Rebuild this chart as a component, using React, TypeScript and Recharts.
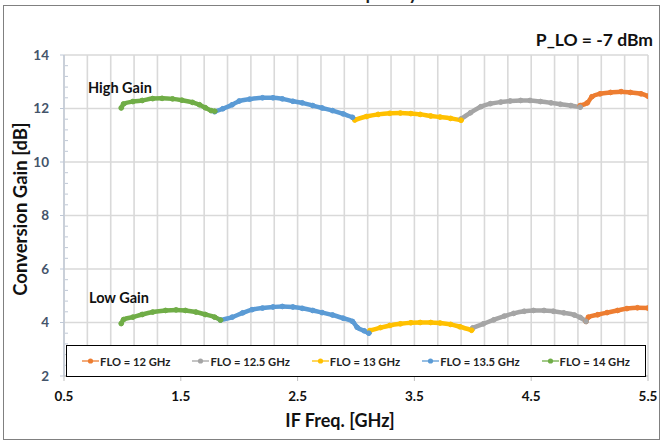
import React from 'react';
import { LineChart, Line, XAxis, YAxis, CartesianGrid, Legend, ReferenceLine } from 'recharts';

// IF frequency [GHz] / conversion gain [dB]
// each FLO has a high gain branch and a low gain branch, split by a null point
const flo12High = [[4.92, 12.11], [4.98, 12.21], [5.02, 12.44], [5.09, 12.55], [5.18, 12.6], [5.27, 12.63], [5.35, 12.6], [5.44, 12.55], [5.5, 12.46]];
const flo12Low = [[4.97, 4.04], [4.99, 4.2], [5.07, 4.29], [5.15, 4.37], [5.24, 4.45], [5.32, 4.52], [5.41, 4.55], [5.5, 4.54]];
const flo125High = [[3.9, 11.61], [3.98, 11.84], [4.07, 12.07], [4.15, 12.18], [4.24, 12.24], [4.32, 12.28], [4.41, 12.3], [4.49, 12.3], [4.58, 12.26], [4.67, 12.21], [4.75, 12.16], [4.84, 12.11], [4.92, 12.05]];
const flo125Low = [[4.0, 3.8], [4.09, 3.95], [4.18, 4.1], [4.27, 4.24], [4.35, 4.34], [4.44, 4.42], [4.52, 4.45], [4.61, 4.45], [4.69, 4.42], [4.78, 4.36], [4.87, 4.28], [4.92, 4.19], [4.97, 4.04]];
const flo13High = [[2.99, 11.57], [3.09, 11.7], [3.19, 11.78], [3.29, 11.82], [3.38, 11.83], [3.47, 11.81], [3.55, 11.78], [3.64, 11.72], [3.72, 11.68], [3.81, 11.63], [3.9, 11.56]];
const flo13Low = [[3.12, 3.7], [3.21, 3.81], [3.29, 3.89], [3.38, 3.95], [3.47, 3.99], [3.55, 4.0], [3.64, 4.0], [3.72, 3.98], [3.81, 3.93], [3.89, 3.84], [3.99, 3.71]];
const flo135High = [[1.79, 11.88], [1.86, 11.99], [1.94, 12.14], [2.0, 12.28], [2.09, 12.35], [2.2, 12.4], [2.29, 12.4], [2.37, 12.36], [2.46, 12.27], [2.54, 12.21], [2.63, 12.11], [2.71, 12.02], [2.8, 11.92], [2.89, 11.8], [2.97, 11.67]];
const flo135Low = [[1.84, 4.09], [1.94, 4.2], [2.03, 4.36], [2.11, 4.48], [2.2, 4.54], [2.29, 4.58], [2.37, 4.6], [2.46, 4.58], [2.54, 4.53], [2.63, 4.45], [2.71, 4.37], [2.8, 4.28], [2.89, 4.16], [2.97, 4.04], [3.01, 3.82], [3.07, 3.69], [3.11, 3.6]];
const flo14High = [[0.99, 12.02], [1.01, 12.17], [1.09, 12.26], [1.17, 12.3], [1.26, 12.37], [1.34, 12.38], [1.43, 12.36], [1.51, 12.31], [1.6, 12.23], [1.66, 12.14], [1.71, 12.03], [1.76, 11.92], [1.79, 11.9]];
const flo14Low = [[0.99, 3.96], [1.01, 4.11], [1.09, 4.2], [1.17, 4.3], [1.26, 4.39], [1.37, 4.45], [1.46, 4.47], [1.54, 4.45], [1.63, 4.39], [1.71, 4.3], [1.79, 4.2], [1.84, 4.09]];

const seriesNames = ['FLO = 12 GHz', 'FLO = 12.5 GHz', 'FLO = 13 GHz', 'FLO = 13.5 GHz', 'FLO = 14 GHz'];
const seriesColors = ['#ED7D31', '#A5A5A5', '#FFC000', '#5B9BD5', '#70AD47'];
const branches = [
  [flo12High, flo12Low],
  [flo125High, flo125Low],
  [flo13High, flo13Low],
  [flo135High, flo135Low],
  [flo14High, flo14Low],
];

// x: labels every 1.0 starting at 0.5, gridlines every 0.2
const xTicks = [0.5, 0.7, 0.9, 1.1, 1.3, 1.5, 1.7, 1.9, 2.1, 2.3, 2.5, 2.7, 2.9, 3.1, 3.3, 3.5, 3.7, 3.9, 4.1, 4.3, 4.5, 4.7, 4.9, 5.1, 5.3, 5.5];
const xLabels = ['0.5', '1.5', '2.5', '3.5', '4.5', '5.5'];
// y: labels every 2, minor marks every 0.4
const yTicks = [2, 2.4, 2.8, 3.2, 3.6, 4, 4.4, 4.8, 5.2, 5.6, 6, 6.4, 6.8, 7.2, 7.6, 8, 8.4, 8.8, 9.2, 9.6, 10, 10.4, 10.8, 11.2, 11.6, 12, 12.4, 12.8, 13.2, 13.6, 14];
const yGrid = [4, 6, 8, 10, 12, 14];

const font = 'Lato, "Open Sans", sans-serif';

const isMajorY = (v: number) => Math.abs(v / 2 - Math.round(v / 2)) < 1e-6;

const toRows = (pts: number[][]) => pts.map(([x, y]) => ({ x, y }));

const seriesData = branches.map(([hi, lo]) => [
  ...toRows(hi),
  { x: hi[hi.length - 1][0], y: null },
  ...toRows(lo),
]);

const XTick = (props: any) => {
  const { x, y, payload } = props;
  const label = payload.value.toFixed(1);
  if (!xLabels.includes(label)) return <g />;
  return (
    <g>
      <line x1={x} x2={x} y1={y} y2={y + 5} stroke="#BFBFBF" strokeWidth={1} />
      <text x={x} y={y + 15} dy="0.71em" textAnchor="middle" fill="#111" fontSize={13.5} fontWeight={700} fontFamily={font}>
        {label}
      </text>
    </g>
  );
};

const YTick = (props: any) => {
  const { x, y, payload } = props;
  const v = payload.value;
  if (!isMajorY(v)) {
    return <line x1={x + 1} x2={x + 4} y1={y} y2={y} stroke="#BFC8D6" strokeWidth={1} />;
  }
  return (
    <g>
      <line x1={x - 4} x2={x} y1={y} y2={y} stroke="#BFC8D6" strokeWidth={1} />
      <text x={x - 15} y={y} dy="0.35em" textAnchor="end" fill="#44546A" fontSize={13.5} fontWeight={700} fontFamily={font}>
        {Math.round(v)}
      </text>
    </g>
  );
};

const LegendBox = (props: any) => {
  const { payload } = props;
  return (
    <div style={{ display: 'flex', justifyContent: 'center', alignItems: 'center', height: '100%', gap: 22 }}>
      {payload.map((entry: any) => (
        <span key={entry.value} style={{ display: 'flex', alignItems: 'center', fontSize: 11.2, fontWeight: 700, fontFamily: font, color: '#222' }}>
          <svg width={17} height={8} style={{ marginRight: 1 }}>
            <line x1={0} x2={17} y1={4} y2={4} stroke={entry.color} strokeWidth={1.3} />
            <circle cx={8.5} cy={4} r={2.6} fill={entry.color} />
          </svg>
          {entry.value}
        </span>
      ))}
    </div>
  );
};

const App: React.FC = () => {
  return (
    <div style={{ position: 'absolute', left: 0, top: 0, width: 662, height: 442, background: '#fff', overflow: 'hidden', fontFamily: font }}>
      <div style={{ position: 'absolute', left: 3, top: 5, width: 655, height: 433, border: '1px solid #808080' }} />
      <div style={{ position: 'absolute', right: 244, top: -18, fontSize: 18, fontWeight: 700, whiteSpace: 'nowrap', color: '#222' }}>
        Conversion Gain vs. IF Frequency
      </div>
      <LineChart width={662} height={442} margin={{ top: 55, right: 14, bottom: 36, left: 4 }}>
        <CartesianGrid stroke="#D9D9D9" strokeWidth={1.6} horizontal={false} />
        <XAxis
          type="number"
          dataKey="x"
          domain={[0.5, 5.5]}
          ticks={xTicks}
          interval={0}
          allowDataOverflow
          height={30}
          tickSize={0}
          tickMargin={0}
          tickLine={false}
          tick={<XTick />}
          axisLine={{ stroke: '#BFBFBF', strokeWidth: 1.3 }}
        />
        <YAxis
          type="number"
          domain={[2, 14]}
          ticks={yTicks}
          width={60}
          tickSize={0}
          tickMargin={0}
          tickLine={false}
          tick={<YTick />}
          interval={0}
          axisLine={{ stroke: '#BFC8D6', strokeWidth: 1.3 }}
        />
        {yGrid.map((v) => (
          <ReferenceLine key={v} y={v} stroke="#D9D9D9" strokeWidth={1.6} />
        ))}
        <Legend
          layout="horizontal"
          verticalAlign="middle"
          align="center"
          content={<LegendBox />}
          wrapperStyle={{ left: 66, top: 345, width: 580, height: 32, border: '1px solid #000', background: '#fff', boxSizing: 'border-box' }}
        />
        {seriesData.map((d, i) => (
          <Line
            key={seriesNames[i]}
            data={d}
            dataKey="y"
            name={seriesNames[i]}
            type="monotone"
            stroke={seriesColors[i]}
            strokeWidth={4.5}
            strokeLinecap="round"
            strokeLinejoin="round"
            dot={{ r: 2.4, fill: seriesColors[i], stroke: seriesColors[i], strokeWidth: 1 }}
            connectNulls={false}
            isAnimationActive={false}
          />
        ))}
      </LineChart>
      <div style={{ position: 'absolute', right: 9, top: 29, fontSize: 17.5, fontWeight: 700, color: '#111' }}>P_LO = -7 dBm</div>
      <div style={{ position: 'absolute', left: 88, top: 79, fontSize: 14.5, fontWeight: 700, color: '#111' }}>High Gain</div>
      <div style={{ position: 'absolute', left: 89, top: 289, fontSize: 14.5, fontWeight: 700, color: '#111' }}>Low Gain</div>
      <div style={{ position: 'absolute', left: 260, top: 409, width: 160, textAlign: 'center', fontSize: 18, fontWeight: 700, color: '#111' }}>IF Freq. [GHz]</div>
      <div style={{ position: 'absolute', left: 20, top: 209, width: 0, height: 0 }}>
        <div style={{ position: 'absolute', left: -100, top: -11, width: 200, textAlign: 'center', transform: 'rotate(-90deg)', fontSize: 18.5, fontWeight: 700, color: '#111', whiteSpace: 'nowrap' }}>
          Conversion Gain [dB]
        </div>
      </div>
    </div>
  );
};

export default App;
